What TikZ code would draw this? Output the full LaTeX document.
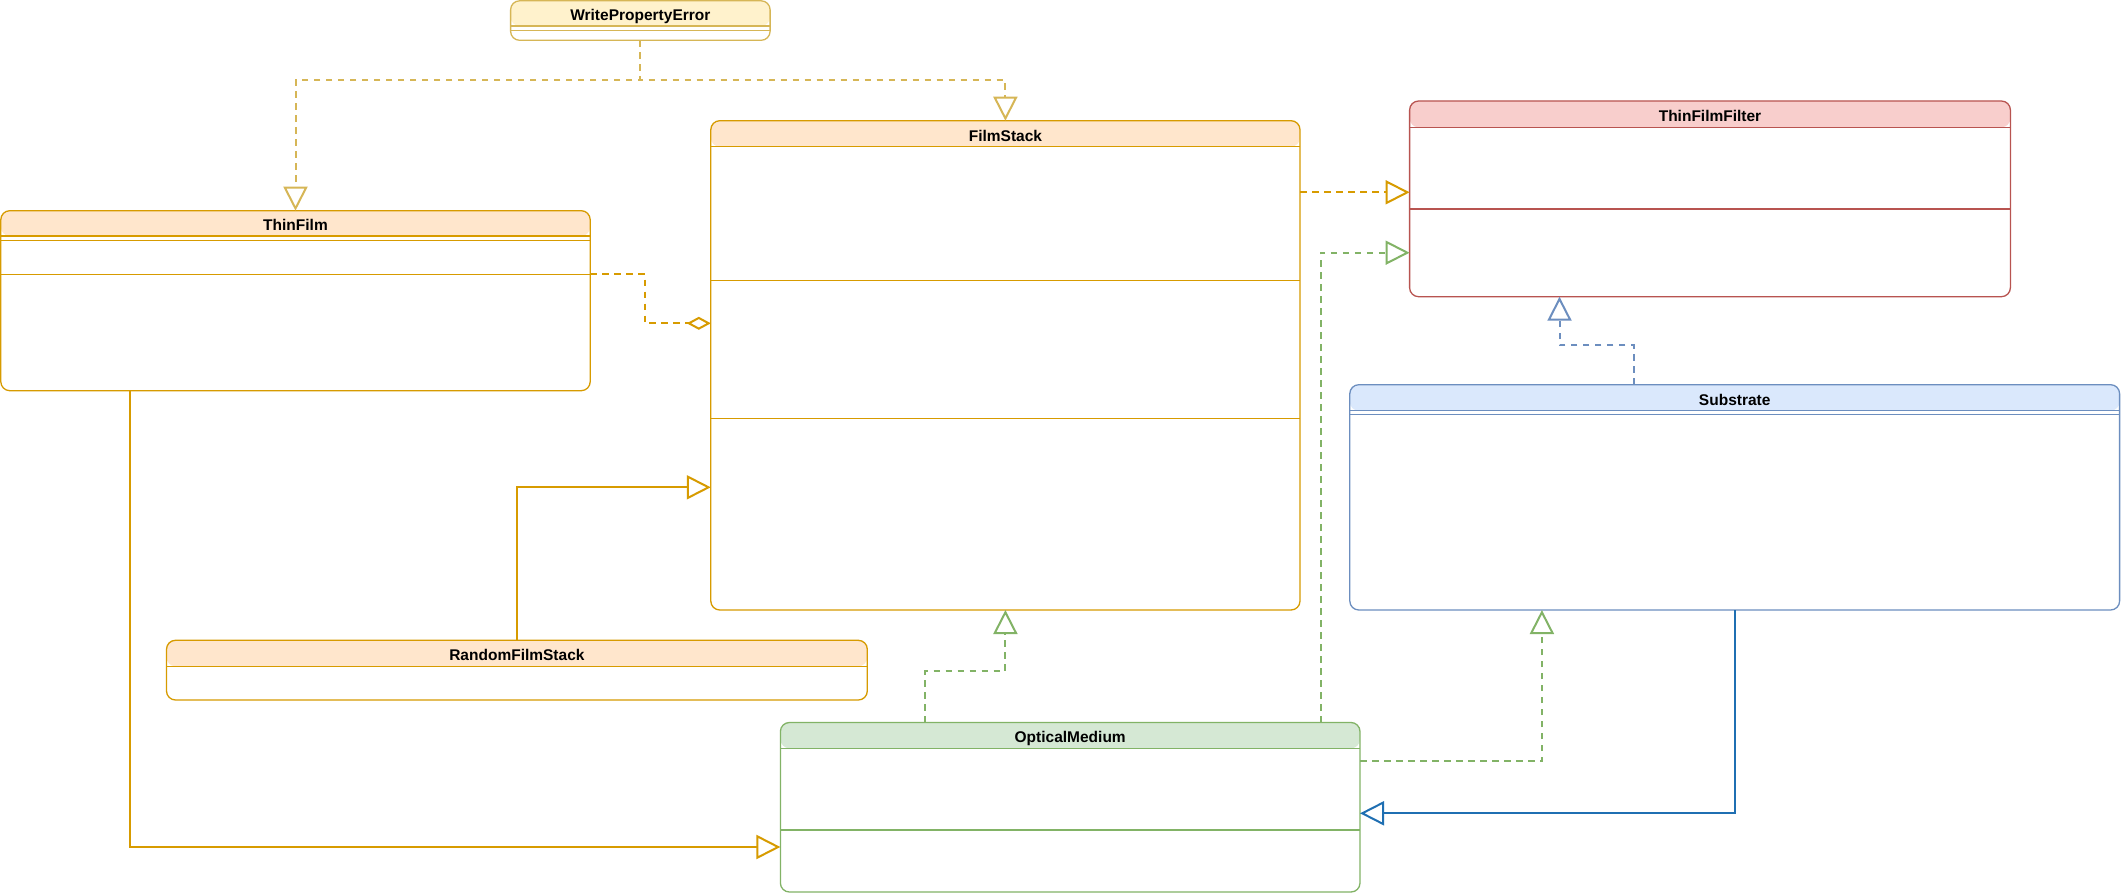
\documentclass[tikz,border=0pt]{standalone}
\usepackage{fontspec}
\setmainfont{Liberation Sans}
\usetikzlibrary{arrows.meta,calc}
\definecolor{oS}{HTML}{D79B00}\definecolor{oF}{HTML}{FFE6CC}
\definecolor{yS}{HTML}{D6B656}\definecolor{yF}{HTML}{FFF2CC}
\definecolor{gS}{HTML}{82B366}\definecolor{gF}{HTML}{D5E8D4}
\definecolor{bS}{HTML}{6C8EBF}\definecolor{bF}{HTML}{DAE8FC}
\definecolor{rS}{HTML}{B85450}\definecolor{rF}{HTML}{F8CECC}
\definecolor{bE}{HTML}{1F6FB2}
\tikzset{
  classbox/.style={line width=1.3pt, rounded corners=9pt, fill=white, inner sep=0pt, outer sep=0pt},
  boxline/.style={line width=1.3pt},
  classtitle/.style={font=\fontsize{15.5}{18}\selectfont\bfseries, anchor=base, inner sep=0pt},
  conn/.style={line width=2pt},
  dsh/.style={dash pattern=on 6.5pt off 5.5pt},
  tri/.style={-{Triangle[length=24pt,width=24pt,fill=white,line join=miter]}},
  dia/.style={-{Diamond[length=24pt,width=13pt,fill=white,line join=miter]}}
}
\newcommand\umlclass[9]{%
  \node[classbox, draw=#6, minimum width={(#4-#2)*1pt}, minimum height={(#5-#3)*1pt},
    path picture={\fill[#7] (path picture bounding box.north west) rectangle ($(path picture bounding box.north east)+(0,{#8-#3})$);}]
    (#1) at ({(#2+#4)/2},{(#3+#5)/2}) {};
  \draw[boxline,#6] (#2,#8) -- (#4,#8);
  \node[classtitle] (#1-t) at ({(#2+#4)/2},{#8-5.4}) {#9};
}
\begin{document}
\begin{tikzpicture}[x=1pt,y=-1pt]
\useasboundingbox[fill=white] (0,0) rectangle (2121,896);

% classes
\umlclass{wpe}{510.6}{0.8}{770.1}{40.3}{yS}{yF}{26}{WritePropertyError}
\draw[boxline,yS] (510.6,30.3) -- (770.1,30.3);

\umlclass{fs}{710.8}{120.7}{1300}{610}{oS}{oF}{146.7}{FilmStack}
\draw[boxline,oS] (710.8,280.5) -- (1300,280.5);
\draw[boxline,oS] (710.8,418.3) -- (1300,418.3);

\umlclass{tf}{0.8}{210.7}{590.2}{390.7}{oS}{oF}{236}{ThinFilm}
\draw[boxline,oS] (0.8,240.3) -- (590.2,240.3);
\draw[boxline,oS] (0.8,274.3) -- (590.2,274.3);

\umlclass{tff}{1409.6}{101}{2010.4}{296.7}{rS}{rF}{127.3}{ThinFilmFilter}
\draw[boxline,rS] (1409.6,209) -- (2010.4,209);

\umlclass{sub}{1349.8}{384.7}{2119.6}{610}{bS}{bF}{410.7}{Substrate}
\draw[boxline,bS] (1349.8,414.3) -- (2119.6,414.3);

\umlclass{rfs}{166.5}{640.3}{867.3}{700}{oS}{oF}{666.3}{RandomFilmStack}

\umlclass{om}{780.4}{722.5}{1360}{892}{gS}{gF}{748.3}{OpticalMedium}
\draw[boxline,gS] (780.4,830) -- (1360,830);

% connectors
\draw[conn,dsh,yS,tri] (wpe.south) |- (tf.north |- 0,80) -- (tf.north);
\draw[conn,dsh,yS,tri] (wpe.south) |- (fs.north |- 0,80) -- (fs.north);

\draw[conn,dsh,oS,dia] (tf.east |- 0,274.3) -- (644.8,274.3) |- (fs.west |- 0,323.3);
\draw[conn,dsh,oS,tri] (fs.east |- 0,192.3) -- (tff.west |- 0,192.3);
\draw[conn,oS,tri] (rfs.north) |- (fs.west |- 0,487.3);
\draw[conn,oS,tri] (tf.south -| 130,0) |- (om.west |- 0,847);

\draw[conn,dsh,gS,tri] (om.north -| 925.2,0) -- (925.2,671) -| (fs.south);
\draw[conn,dsh,gS,tri] (om.north -| 1320.6,0) |- (tff.west |- 0,252.7);
\draw[conn,dsh,gS,tri] (om.east |- 0,761.3) -| (sub.south -| 1541.9,0);

\draw[conn,dsh,bS,tri] (sub.north -| 1634,0) -- (1634,345.3) -| (tff.south -| 1559.5,0);
\draw[conn,bE,tri] (sub.south) |- (om.east |- 0,813.3);
\end{tikzpicture}
\end{document}
